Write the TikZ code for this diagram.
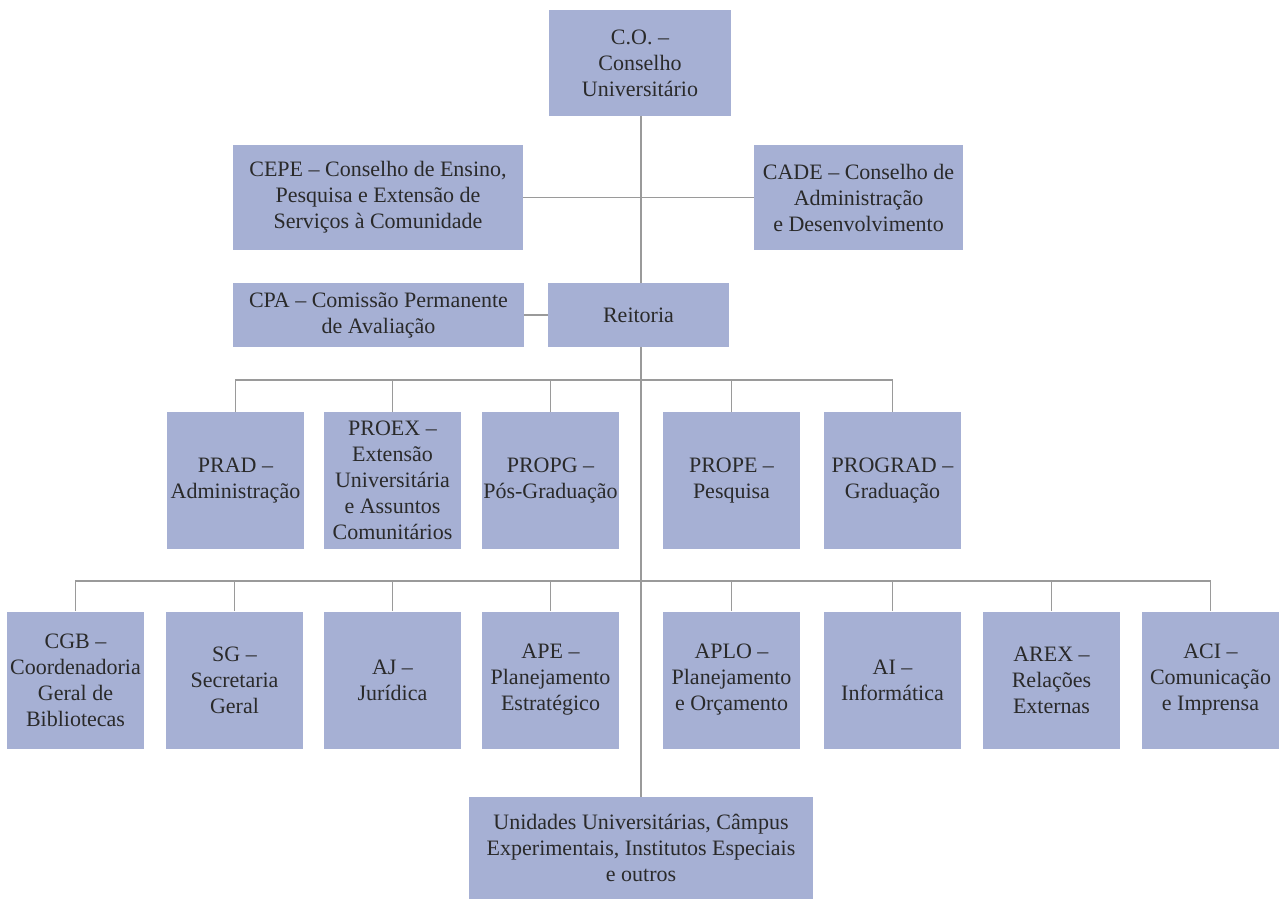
\documentclass[tikz,border=0pt]{standalone}
\usepackage{fontspec}
\setmainfont{Liberation Serif}
\definecolor{boxblue}{HTML}{A6B0D4}
\definecolor{linegray}{HTML}{9A9A9A}
\definecolor{textgray}{HTML}{2A2A2A}
\tikzset{
    unit/.style={fill=boxblue, align=center, inner sep=0pt, text=textgray,
        font=\fontsize{11}{13}\selectfont},
    sqbox/.style={unit, minimum width=68.5pt, minimum height=68.5pt},
    link/.style={draw=linegray, line width=0.7pt},
}
\begin{document}
\begin{tikzpicture}[x=0.5pt,y=-0.5pt]
    \useasboundingbox (0,0) rectangle (1280,900);
    % councils
    \node[unit, minimum width=91pt, minimum height=53pt] (co) at (640,63)
        {C.O. --\\Conselho\\Universitário};
    \node[unit, minimum width=145pt, minimum height=52.5pt] (cepe) at (378,197.5)
        {CEPE -- Conselho de Ensino,\\Pesquisa e Extensão de\\Serviços à Comunidade};
    \node[unit, minimum width=104.5pt, minimum height=52.5pt] (cade) at (858.5,197.5)
        {CADE -- Conselho de\\Administração\\e Desenvolvimento};
    \node[unit, minimum width=145.5pt, minimum height=32pt] (cpa) at (378.5,315)
        {CPA -- Comissão Permanente\\de Avaliação};
    \node[unit, minimum width=90.5pt, minimum height=32pt] (reit) at (638.5,315)
        {Reitoria};
    % pro-reitorias
    \node[sqbox] (prad) at (235.5,480.5) {PRAD --\\Administração};
    \node[sqbox] (proex) at (392.5,480.5)
        {PROEX --\\Extensão\\Universitária\\e Assuntos\\Comunitários};
    \node[sqbox] (propg) at (550.5,480.5) {PROPG --\\Pós-Graduação};
    \node[sqbox] (prope) at (731.5,480.5) {PROPE --\\Pesquisa};
    \node[sqbox] (prograd) at (892.5,480.5) {PROGRAD --\\Graduação};
    % assessorias
    \node[sqbox] (cgb) at (75.5,680)
        {CGB --\\Coordenadoria\\Geral de\\Bibliotecas};
    \node[sqbox] (sg) at (234.5,680) {SG --\\Secretaria\\Geral};
    \node[sqbox] (aj) at (392.5,680) {AJ --\\Jurídica};
    \node[sqbox] (ape) at (550.5,680) {APE --\\Planejamento\\Estratégico};
    \node[sqbox] (aplo) at (731.5,680) {APLO --\\Planejamento\\e Orçamento};
    \node[sqbox] (ai) at (892.5,680) {AI --\\Informática};
    \node[sqbox] (arex) at (1051.5,680) {AREX --\\Relações\\Externas};
    \node[sqbox] (aci) at (1210.5,680) {ACI --\\Comunicação\\e Imprensa};
    \node[unit, minimum width=172pt, minimum height=51pt] (unid) at (641,848)
        {Unidades Universitárias, Câmpus\\Experimentais, Institutos Especiais\\e outros};
    % connectors
    \coordinate (bus1) at (641,380);
    \coordinate (bus2) at (641,581);
    \draw[link] (co.south -| bus1) -- (reit.north -| bus1);
    \draw[link] (reit.south -| bus1) -- (unid.north);
    \draw[link] (cepe.east) -- (cade.west);
    \draw[link] (cpa.east) -- (reit.west);
    \foreach \n in {prad,proex,propg,prope,prograd}
        \draw[link] (\n.north) |- (bus1);
    \foreach \n in {cgb,sg,aj,ape,aplo,ai,arex,aci}
        \draw[link] (\n.north) |- (bus2);
\end{tikzpicture}
\end{document}
